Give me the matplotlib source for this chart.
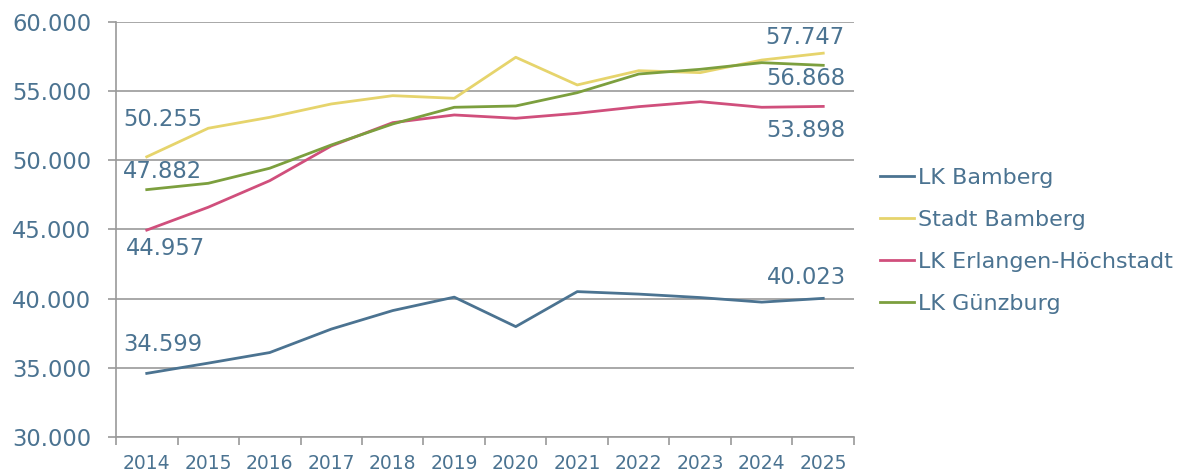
import matplotlib.pyplot as plt
import numpy as np

plt.rcParams['font.family'] = ['DejaVu Sans']

# Daten
jahre = ['2014', '2015', '2016', '2017', '2018', '2019',
         '2020', '2021', '2022', '2023', '2024', '2025']
lk_bamberg = [34599, 35340, 36105, 37800, 39140, 40110,
              37980, 40510, 40330, 40080, 39750, 40023]
stadt_bamberg = [50255, 52320, 53110, 54075, 54675, 54485,
                 57450, 55450, 56480, 56340, 57250, 57747]
lk_erlangen = [44957, 46610, 48530, 51040, 52725, 53280,
               53040, 53400, 53880, 54240, 53835, 53898]
lk_guenzburg = [47882, 48340, 49430, 51110, 52630, 53835,
                53930, 54890, 56240, 56580, 57060, 56868]

text_farbe = '#4b7391'
farben = {
    'LK Bamberg': '#4b7391',
    'Stadt Bamberg': '#e6d46c',
    'LK Erlangen-Höchstadt': '#d04f7c',
    'LK Günzburg': '#7c9f3e',
}
reihen = {
    'LK Bamberg': lk_bamberg,
    'Stadt Bamberg': stadt_bamberg,
    'LK Erlangen-Höchstadt': lk_erlangen,
    'LK Günzburg': lk_guenzburg,
}


def de_format(v):
    return f'{v:,.0f}'.replace(',', '.')


fig = plt.figure(figsize=(11.99, 4.75), dpi=100)
ax = fig.add_axes([116 / 1199, 1 - 437 / 475, (854 - 116) / 1199, (437 - 22) / 475])

x = np.arange(len(jahre))
for name, werte in reihen.items():
    ax.plot(x, werte, color=farben[name], lw=2, label=name, zorder=3)

# Beschriftungen erster / letzter Wert (Versatz in Pixeln)
beschriftungen = [
    (lk_bamberg, 0, (16, 29)),
    (stadt_bamberg, 0, (16, 37)),
    (lk_erlangen, 0, (19, -18)),
    (lk_guenzburg, 0, (16, 18)),
    (lk_bamberg, 11, (-17, 21)),
    (stadt_bamberg, 11, (-18, 16)),
    (lk_erlangen, 11, (-17, -24)),
    (lk_guenzburg, 11, (-17, -13)),
]
for werte, i, off in beschriftungen:
    ax.annotate(de_format(werte[i]), (x[i], werte[i]), xytext=off,
                textcoords='offset pixels', ha='center', va='center',
                fontsize=16.3, color=text_farbe)

ax.set_xlim(-0.5, len(jahre) - 0.5)
ax.set_ylim(30000, 60000)
ax.set_yticks(np.arange(30000, 60001, 5000))
ax.set_yticklabels([de_format(v) for v in np.arange(30000, 60001, 5000)])
ax.set_xticks(x)
ax.set_xticklabels(jahre)
ax.set_xticks(np.arange(-0.5, len(jahre)), minor=True)

ax.grid(axis='y', color='#9a9a9a', lw=1.2)
ax.set_axisbelow(True)
for s in ['top', 'right']:
    ax.spines[s].set_visible(False)
for s in ['left', 'bottom']:
    ax.spines[s].set_color('#9a9a9a')
    ax.spines[s].set_linewidth(1.2)

ax.tick_params(axis='y', colors='#9a9a9a', labelcolor=text_farbe, labelsize=16.3,
               length=5.8, width=1.2, pad=12)
ax.tick_params(axis='x', which='major', length=0, labelcolor=text_farbe,
               labelsize=13.5, pad=12)
ax.tick_params(axis='x', which='minor', colors='#9a9a9a', length=5.8, width=1.2)

leg = fig.legend(loc='center left', bbox_to_anchor=(880 / 1199, 1 - 241 / 475),
                 frameon=False, fontsize=16, labelcolor=text_farbe,
                 handlelength=1.55, handletextpad=0.18, labelspacing=0.99,
                 borderaxespad=0, borderpad=0)

plt.savefig('out.png', dpi=100)
plt.close()
